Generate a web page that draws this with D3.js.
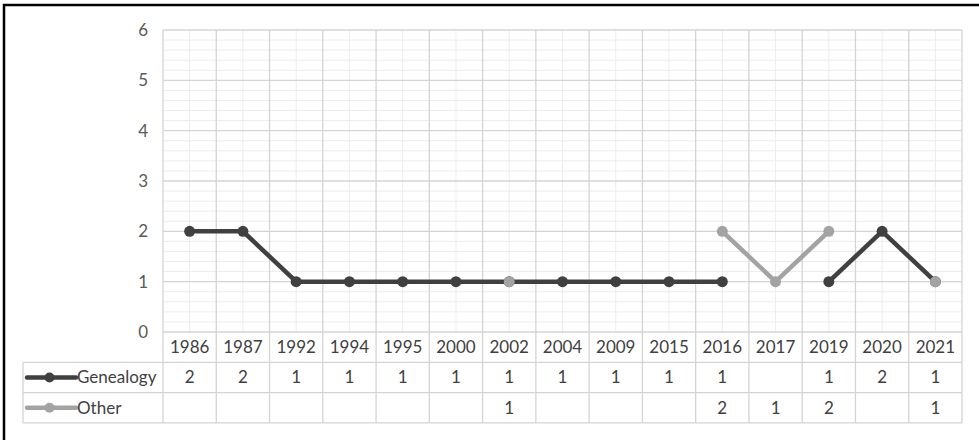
<!DOCTYPE html>
<html><head><meta charset="utf-8">
<script src="https://cdn.jsdelivr.net/npm/d3@7"></script>
<style>body{margin:0;background:#fff}svg{display:block}text{font-family:Lato,"Open Sans",sans-serif}</style>
</head><body><svg id="c" width="979" height="440"></svg>
<script>
const years = ["1986","1987","1992","1994","1995","2000","2002","2004","2009","2015","2016","2017","2019","2020","2021"];
const genealogy = [2,2,1,1,1,1,1,1,1,1,1,null,1,2,1];
const other = [null,null,null,null,null,null,1,null,null,null,2,1,2,null,1];
const seriesNames = ["Genealogy","Other"];
const seriesColors = ["#404040","#a3a3a3"];
const yTicks = [0,1,2,3,4,5,6];

const svg = d3.select("#c");
const L = 163, R = 962, T = 30, B = 332;
const rowH = 30.3, tableLeft = 23;
const x = d3.scaleBand().domain(years).range([L, R]);
const y = d3.scaleLinear().domain([0, 6]).range([B, T]);
const bw = x.bandwidth();
const FS = 17;

// frame
svg.append("rect").attr("x",4).attr("y",5).attr("width",1000).attr("height",1000)
  .attr("fill","none").attr("stroke","#000").attr("stroke-width",2.5);

const g = svg.append("g");
g.selectAll(".hm").data(d3.range(0, 6.001, 0.2).filter(v => Math.abs(v - Math.round(v)) > 0.01))
  .join("line").attr("x1",L).attr("x2",R).attr("y1",d=>y(d)).attr("y2",d=>y(d))
  .attr("stroke","#ececec").attr("stroke-width",1);
g.selectAll(".vm").data(years).join("line")
  .attr("x1",d=>x(d)+bw/2).attr("x2",d=>x(d)+bw/2).attr("y1",T).attr("y2",B)
  .attr("stroke","#ececec").attr("stroke-width",1);
g.selectAll(".hM").data(yTicks).join("line").attr("x1",L).attr("x2",R)
  .attr("y1",d=>y(d)).attr("y2",d=>y(d)).attr("stroke","#d4d4d4").attr("stroke-width",1.3);
const borders = years.map(d => x(d)).concat([R]);
g.selectAll(".vM").data(borders).join("line")
  .attr("x1",d=>d).attr("x2",d=>d).attr("y1",T).attr("y2",B + rowH*3)
  .attr("stroke","#d4d4d4").attr("stroke-width",1.3);
[B + rowH, B + rowH*2, B + rowH*3].forEach(yy => {
  g.append("line").attr("x1",tableLeft).attr("x2",R).attr("y1",yy).attr("y2",yy)
    .attr("stroke","#d4d4d4").attr("stroke-width",1.3);
});
g.append("line").attr("x1",tableLeft).attr("x2",tableLeft).attr("y1",B+rowH).attr("y2",B+rowH*3)
  .attr("stroke","#d4d4d4").attr("stroke-width",1.3);

svg.selectAll(".yl").data(yTicks).join("text")
  .attr("x",148).attr("y",d=>y(d)).attr("dy","0.35em").attr("text-anchor","end")
  .attr("font-size",FS).attr("fill","#595959").text(d=>d);

svg.selectAll(".xl").data(years).join("text")
  .attr("x",d=>x(d)+bw/2).attr("y",B+rowH/2).attr("dy","0.35em").attr("text-anchor","middle")
  .attr("font-size",FS).attr("fill","#404040").text(d=>d);

const series = [genealogy, other];
series.forEach((vals, i) => {
  const cy = B + rowH*(i+1) + rowH/2;
  svg.selectAll(".tv"+i).data(years.map((yr,j)=>({yr, v: vals[j]})).filter(d=>d.v!=null)).join("text")
    .attr("x",d=>x(d.yr)+bw/2).attr("y",cy).attr("dy","0.35em").attr("text-anchor","middle")
    .attr("font-size",FS).attr("fill","#404040").text(d=>d.v);
  svg.append("line").attr("x1",27).attr("x2",76).attr("y1",cy).attr("y2",cy)
    .attr("stroke",seriesColors[i]).attr("stroke-width",4.5).attr("stroke-linecap","round");
  svg.append("circle").attr("cx",49.5).attr("cy",cy).attr("r",5).attr("fill",seriesColors[i]);
  svg.append("text").attr("x",77).attr("y",cy).attr("dy","0.35em").attr("font-size",FS)
    .attr("fill","#404040").text(seriesNames[i]);
});

const line = d3.line().defined(d=>d.v!=null).x(d=>x(d.yr)+bw/2).y(d=>y(d.v));
series.forEach((vals, i) => {
  const data = years.map((yr,j)=>({yr, v: vals[j]}));
  svg.append("path").datum(data).attr("d",line).attr("fill","none")
    .attr("stroke",seriesColors[i]).attr("stroke-width",4.5).attr("stroke-linejoin","round");
  svg.selectAll(".m"+i).data(data.filter(d=>d.v!=null)).join("circle")
    .attr("cx",d=>x(d.yr)+bw/2).attr("cy",d=>y(d.v)).attr("r",5.5).attr("fill",seriesColors[i]);
});
</script></body></html>
